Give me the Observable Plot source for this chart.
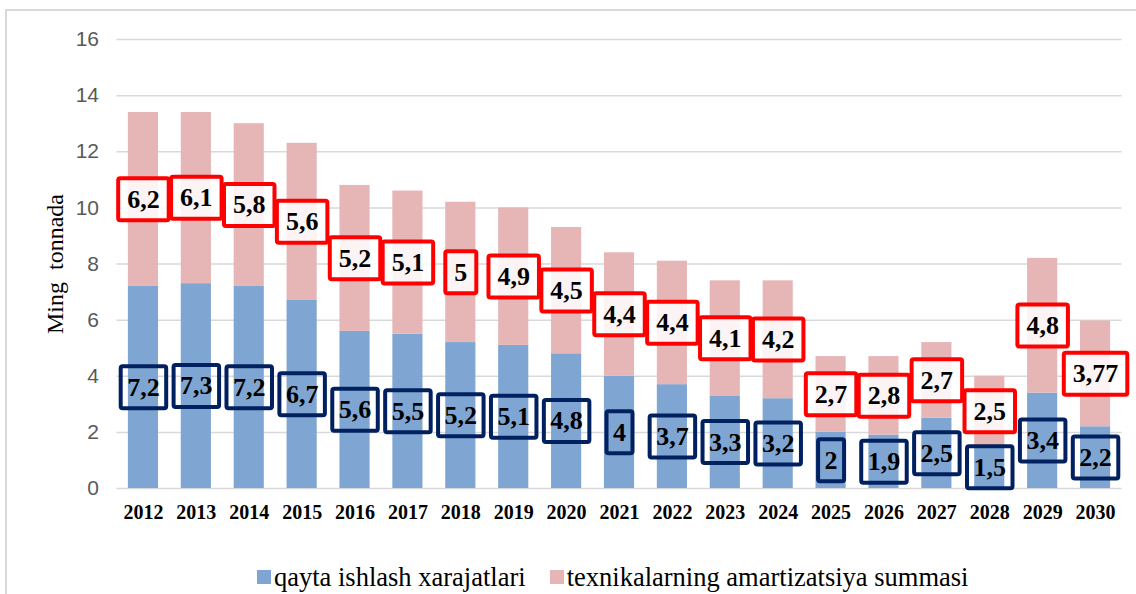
<!DOCTYPE html>
<html>
<head>
<meta charset="utf-8">
<script src="https://cdn.jsdelivr.net/npm/d3@7"></script>
<script src="https://cdn.jsdelivr.net/npm/@observablehq/plot@0.6"></script>
<style>
  html, body { margin: 0; padding: 0; background: #fff; }
  body { width: 1136px; height: 594px; overflow: hidden; position: relative; }
  #frame { position: absolute; left: 5px; top: 9px; width: 1200px; height: 700px; border: 2px solid #D9D9D9; box-sizing: border-box; }
  #chart { position: absolute; left: 0; top: 0; }
  #legend { position: absolute; left: 257px; top: 563px; display: flex; align-items: center; white-space: nowrap; }
</style>
</head>
<body>
<div id="frame"></div>
<div id="chart"></div>
<div id="legend"></div>
<script>
const years = ["2012","2013","2014","2015","2016","2017","2018","2019","2020","2021","2022","2023","2024","2025","2026","2027","2028","2029","2030"];
const processingCosts = [7.2,7.3,7.2,6.7,5.6,5.5,5.2,5.1,4.8,4,3.7,3.3,3.2,2,1.9,2.5,1.5,3.4,2.2];
const amortization = [6.2,6.1,5.8,5.6,5.2,5.1,5,4.9,4.5,4.4,4.4,4.1,4.2,2.7,2.8,2.7,2.5,4.8,3.77];
const seriesNames = ["qayta ishlash xarajatlari", "texnikalarning amartizatsiya summasi"];
const seriesColors = ["#7FA6D3", "#E6B6B6"];
const yTicks = [0,2,4,6,8,10,12,14,16];
const yTitle = "Ming  tonnada";

const fmt = v => String(v).replace(".", ",");

const rows = [
  ...years.map((y, i) => ({year: y, series: seriesNames[0], value: processingCosts[i]})),
  ...years.map((y, i) => ({year: y, series: seriesNames[1], value: amortization[i]}))
];
const blueLabels = years.map((y, i) => ({year: y, mid: processingCosts[i] / 2, label: fmt(processingCosts[i])}));
const redLabels = years.map((y, i) => ({year: y, mid: processingCosts[i] + amortization[i] / 2, label: fmt(amortization[i])}));

const serif = "Liberation Serif, Times New Roman, serif";
const labelFont = {fontSize: 26, fontWeight: "bold", fontFamily: serif, fill: "#000"};

const plot = Plot.plot({
  width: 1136,
  height: 530,
  marginTop: 39,
  marginBottom: 42,
  marginLeft: 116.5,
  marginRight: 14.5,
  style: {background: "transparent", color: "#000", overflow: "visible"},
  x: {type: "band", domain: years, paddingInner: 0.43, paddingOuter: 0.215, round: false, label: null},
  y: {domain: [0, 16], label: null},
  color: {domain: seriesNames, range: seriesColors},
  marks: [
    Plot.gridY(yTicks, {stroke: "#D9D9D9", strokeOpacity: 1, strokeWidth: 1.5}),
    Plot.barY(rows, {x: "year", y: "value", fill: "series", order: seriesNames}),
    Plot.text(blueLabels, {x: "year", y: "mid", text: "label", ariaLabel: "blue-labels", ...labelFont}),
    Plot.text(redLabels, {x: "year", y: "mid", text: "label", ariaLabel: "red-labels", ...labelFont}),
    Plot.axisX({tickSize: 0, tickPadding: 16, fontSize: 20, fontWeight: "bold", fontFamily: serif, fill: "#000", label: null}),
    Plot.axisY(yTicks, {tickSize: 0, tickPadding: 18, fontSize: 21, fontFamily: "Liberation Sans, Arial, sans-serif", fill: "#595959", label: null}),
    Plot.text([yTitle], {frameAnchor: "left", rotate: -90, textAnchor: "middle", dx: -62, fontSize: 24, fontFamily: serif, fill: "#000"})
  ]
});

document.getElementById("chart").appendChild(plot);

function addBoxes(name, groupIndex, stroke, fill, fillOpacity, padX, padY) {
  let texts = Array.from(plot.querySelectorAll(`text[aria-label="${name}"]`));
  if (!texts.length) {
    const g = plot.querySelector(`g[aria-label="${name}"]`);
    if (g) texts = Array.from(g.querySelectorAll("text"));
  }
  if (!texts.length) {
    const groups = plot.querySelectorAll('g[aria-label="text"]');
    if (groups[groupIndex]) texts = Array.from(groups[groupIndex].querySelectorAll("text"));
  }
  const ns = "http://www.w3.org/2000/svg";
  texts.forEach(t => {
    const b = t.getBBox();
    const r = document.createElementNS(ns, "rect");
    r.setAttribute("x", b.x - padX);
    r.setAttribute("y", b.y - padY);
    r.setAttribute("width", b.width + 2 * padX);
    r.setAttribute("height", b.height + 2 * padY);
    r.setAttribute("rx", 2);
    r.setAttribute("fill", fill);
    r.setAttribute("fill-opacity", fillOpacity);
    r.setAttribute("stroke", stroke);
    r.setAttribute("stroke-width", 4);
    const tr = t.getAttribute("transform");
    if (tr) r.setAttribute("transform", tr);
    t.parentNode.insertBefore(r, t);
  });
}
addBoxes("blue-labels", 0, "#002060", "none", 0, 6.5, 6.5);
addBoxes("red-labels", 1, "#FF0000", "#FFFFFF", 0.85, 9, 6.5);

const legend = document.getElementById("legend");
seriesNames.forEach((name, i) => {
  const item = document.createElement("div");
  item.style.cssText = "display:flex;align-items:center;margin-right:24px;";
  const sw = document.createElement("div");
  sw.style.cssText = `width:14px;height:14px;margin-right:3px;background:${seriesColors[i]};`;
  const tx = document.createElement("span");
  tx.style.cssText = "font-family:'Liberation Serif','Times New Roman',serif;font-size:26.5px;line-height:28px;color:#000;";
  tx.textContent = name;
  item.appendChild(sw);
  item.appendChild(tx);
  legend.appendChild(item);
});
</script>
</body>
</html>
